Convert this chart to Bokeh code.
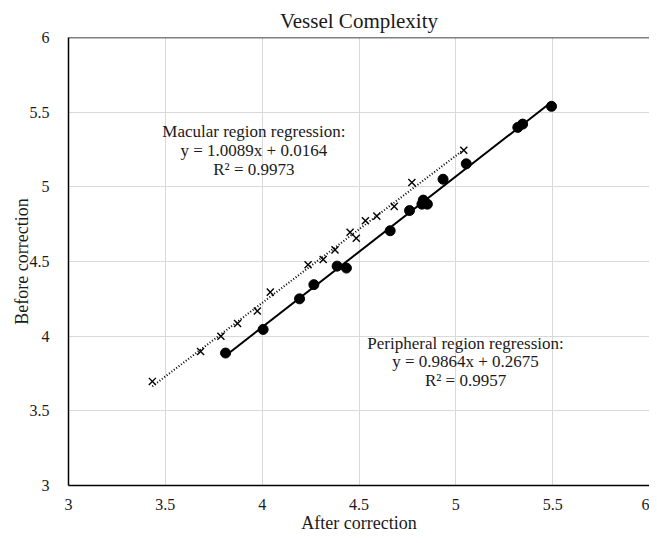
import numpy as np
from bokeh.plotting import figure
from bokeh.models import FixedTicker, Span, Label, Range1d
from bokeh.embed import file_html
from bokeh.resources import INLINE

# Macular region (crosses): after correction (x) vs before correction (y)
macular_x = [3.433, 3.682, 3.787, 3.873, 3.975, 4.042, 4.237, 4.315, 4.376,
             4.454, 4.486, 4.533, 4.592, 4.682, 4.773, 5.041]
macular_y = [3.697, 3.897, 3.999, 4.085, 4.168, 4.295, 4.478, 4.513, 4.578,
             4.696, 4.656, 4.773, 4.804, 4.869, 5.029, 5.245]

# Peripheral region (filled circles)
peripheral_x = [3.811, 4.005, 4.193, 4.267, 4.387, 4.435, 4.661, 4.761, 4.825,
                4.832, 4.853, 4.934, 5.054, 5.320, 5.345, 5.494]
peripheral_y = [3.887, 4.045, 4.250, 4.345, 4.469, 4.456, 4.706, 4.841, 4.884,
                4.911, 4.884, 5.051, 5.154, 5.398, 5.420, 5.539]

ticks = [3, 3.5, 4, 4.5, 5, 5.5, 6]
tick_labels = ["3", "3.5", "4", "4.5", "5", "5.5", "6"]

title_text = "Vessel Complexity"
x_label = "After correction"
y_label = "Before correction"
macular_text = ["Macular region regression:", "y = 1.0089x + 0.0164", "R\u00b2 = 0.9973"]
peripheral_text = ["Peripheral region regression:", "y = 0.9864x + 0.2675", "R\u00b2 = 0.9957"]

FONT = "Liberation Serif"
TXT = "#1a1a1a"

p = figure(width=649, height=535, x_range=Range1d(3, 6), y_range=Range1d(3, 6),
           output_backend="svg", toolbar_location=None,
           min_border_left=68, min_border_right=0, min_border_top=37, min_border_bottom=47)
p.outline_line_color = None
p.background_fill_color = "white"
p.border_fill_color = "white"

p.title.text = title_text
p.title.align = "center"
p.title.vertical_align = "top"
p.title.text_font = FONT
p.title.text_font_size = "21px"
p.title.text_font_style = "normal"
p.title.text_color = TXT
p.title.standoff = 6

overrides = {t: l for t, l in zip(ticks, tick_labels)}
for ax in (p.xaxis[0], p.yaxis[0]):
    ax.ticker = FixedTicker(ticks=ticks)
    ax.major_label_overrides = overrides
    ax.major_tick_line_color = None
    ax.minor_tick_line_color = None
    ax.axis_line_color = "black"
    ax.axis_line_width = 1.5
    ax.major_label_text_font = FONT
    ax.major_label_text_font_size = "16px"
    ax.major_label_text_color = TXT
    ax.axis_label_text_font = FONT
    ax.axis_label_text_font_size = "18px"
    ax.axis_label_text_font_style = "normal"
    ax.axis_label_text_color = TXT

p.xaxis.axis_label = x_label
p.yaxis.axis_label = y_label
p.xaxis.major_label_standoff = 7
p.yaxis.major_label_standoff = 13
p.xaxis.axis_label_standoff = 0
p.yaxis.axis_label_standoff = -5

for g in (p.xgrid[0], p.ygrid[0]):
    g.ticker = FixedTicker(ticks=ticks)
    g.grid_line_color = "#d9d9d9"
    g.grid_line_width = 1

p.add_layout(Span(location=6, dimension="width", line_color="black", line_width=1.5))

# regression trend lines fitted from the data
mx = np.array(macular_x); my = np.array(macular_y)
px_ = np.array(peripheral_x); py_ = np.array(peripheral_y)
mk, mb = np.polyfit(mx, my, 1)
pk, pb = np.polyfit(px_, py_, 1)
mline_x = [mx.min(), mx.max()]
pline_x = [px_.min(), px_.max()]
p.line(mline_x, [mk * v + mb for v in mline_x], line_color="black", line_width=2, line_dash="1 2")
p.line(pline_x, [pk * v + pb for v in pline_x], line_color="black", line_width=2)

p.scatter(macular_x, macular_y, marker="x", size=10, line_color="black", line_width=1.4)
p.scatter(peripheral_x, peripheral_y, marker="circle", size=10, fill_color="black", line_color="black")

def add_text(t, x, y, size):
    p.add_layout(Label(x=x, y=y, text=t, text_align="center", text_baseline="middle",
                       text_font=FONT, text_font_size=size, text_color=TXT))

for t, y in zip(macular_text, [5.372, 5.245, 5.118]):
    add_text(t, 3.957, y, "17px")
for t, y in zip(peripheral_text, [3.949, 3.828, 3.701]):
    add_text(t, 5.05, y, "17px")

open("out.html", "w").write(file_html(p, INLINE))
